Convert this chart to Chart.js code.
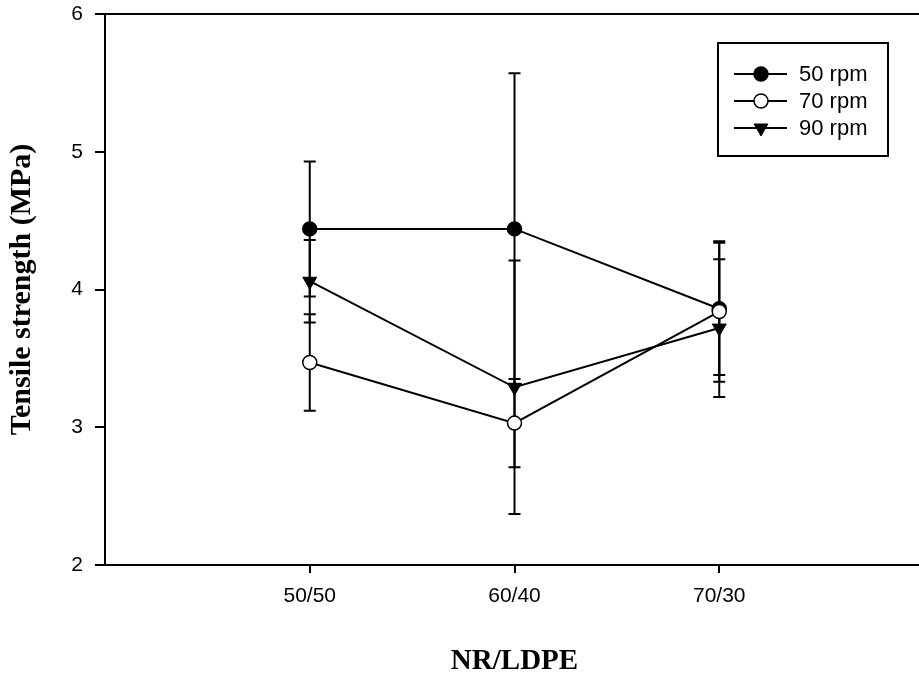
<!DOCTYPE html>
<html>
<head>
<meta charset="utf-8">
<script src="https://cdn.jsdelivr.net/npm/chart.js@4.4.0/dist/chart.umd.min.js"></script>
<style>
    html, body { margin: 0; padding: 0; background: #fff; overflow: hidden; }
    #wrap { position: relative; width: 933px; height: 679px; }
</style>
</head>
<body>
<div id="wrap"><canvas id="tensileChart" width="933" height="679"></canvas></div>
<script>
// NR/LDPE blend ratios on the x axis
const blends = ['50/50', '60/40', '70/30'];

// tensile strength (MPa) and error bar half-widths
const rpm50 = [4.44, 4.44, 3.86];
const rpm50Err = [0.49, 1.13, 0.48];
const rpm70 = [3.47, 3.03, 3.84];
const rpm70Err = [0.35, 0.32, 0.51];
const rpm90 = [4.06, 3.29, 3.72];
const rpm90Err = [0.30, 0.92, 0.50];

const yTicks = [2, 3, 4, 5, 6];

function toPoints(values) {
    return values.map((v, i) => ({ x: i + 1, y: v }));
}

const errorBars = {
    id: 'errorBars',
    beforeDatasetsDraw(chart) {
        const ctx = chart.ctx;
        const xs = chart.scales.x;
        const ys = chart.scales.y;
        ctx.save();
        ctx.strokeStyle = '#000';
        ctx.lineWidth = 2;
        chart.data.datasets.forEach(ds => {
            ds.data.forEach((p, i) => {
                const px = xs.getPixelForValue(p.x);
                const top = ys.getPixelForValue(p.y + ds.errors[i]);
                const bot = ys.getPixelForValue(p.y - ds.errors[i]);
                ctx.beginPath();
                ctx.moveTo(px, top);
                ctx.lineTo(px, bot);
                ctx.moveTo(px - 6, top);
                ctx.lineTo(px + 6, top);
                ctx.moveTo(px - 6, bot);
                ctx.lineTo(px + 6, bot);
                ctx.stroke();
            });
        });
        ctx.restore();
    }
};

// boxed legend inside the plot, line with marker in the middle
const boxLegend = {
    id: 'boxLegend',
    afterDraw(chart) {
        const ctx = chart.ctx;
        const area = chart.chartArea;
        const left = area.right - 206;
        const top = area.top + 29;
        const w = 170, h = 113;
        ctx.save();
        ctx.strokeStyle = '#000';
        ctx.lineWidth = 2;
        ctx.strokeRect(left, top, w, h);
        chart.data.datasets.forEach((ds, row) => {
            const cy = top + 31 + row * 27;
            ctx.strokeStyle = '#000';
            ctx.lineWidth = 2;
            ctx.beginPath();
            ctx.moveTo(left + 16, cy);
            ctx.lineTo(left + 69, cy);
            ctx.stroke();
            ctx.fillStyle = ds.pointBackgroundColor;
            ctx.strokeStyle = ds.pointBorderColor;
            ctx.lineWidth = ds.pointBorderWidth;
            Chart.helpers.drawPoint(ctx, {
                pointStyle: ds.pointStyle,
                rotation: ds.pointRotation || 0,
                radius: ds.pointRadius,
                borderWidth: ds.pointBorderWidth
            }, left + 43, cy);
            ctx.fillStyle = '#000';
            ctx.font = '22px "Liberation Sans", Arial, sans-serif';
            ctx.textBaseline = 'middle';
            ctx.fillText(ds.label, left + 81, cy + 1);
        });
        ctx.restore();
    }
};

const tickFont = { family: '"Liberation Sans", Arial, sans-serif', size: 21 };
const serif = '"Liberation Serif", "Times New Roman", serif';

const ctx = document.getElementById('tensileChart').getContext('2d');
const tensileChart = new Chart(ctx, {
    type: 'line',
    data: {
        datasets: [
            {
                label: '50 rpm',
                data: toPoints(rpm50),
                errors: rpm50Err,
                borderColor: '#000',
                borderWidth: 2,
                pointStyle: 'circle',
                pointRadius: 7,
                pointBackgroundColor: '#000',
                pointBorderColor: '#000',
                pointBorderWidth: 1.5,
                order: 1
            },
            {
                label: '70 rpm',
                data: toPoints(rpm70),
                errors: rpm70Err,
                borderColor: '#000',
                borderWidth: 2,
                pointStyle: 'circle',
                pointRadius: 7,
                pointBackgroundColor: '#fff',
                pointBorderColor: '#000',
                pointBorderWidth: 1.5,
                order: 0
            },
            {
                label: '90 rpm',
                data: toPoints(rpm90),
                errors: rpm90Err,
                borderColor: '#000',
                borderWidth: 2,
                pointStyle: 'triangle',
                pointRotation: 180,
                pointRadius: 8,
                pointBackgroundColor: '#000',
                pointBorderColor: '#000',
                pointBorderWidth: 1,
                order: 2
            }
        ]
    },
    options: {
        responsive: false,
        animation: false,
        layout: { padding: { top: 14, right: 0, left: 0, bottom: 0 } },
        plugins: {
            legend: { display: false },
            tooltip: { enabled: false }
        },
        scales: {
            x: {
                type: 'linear',
                min: 0,
                max: 4,
                afterBuildTicks: s => { s.ticks = blends.map((b, i) => ({ value: i + 1 })); },
                afterFit: s => { s.height = 114; s.paddingLeft = 0; s.paddingRight = 0; },
                ticks: {
                    callback: v => blends[v - 1] || '',
                    font: tickFont,
                    color: '#000',
                    padding: 11,
                    maxRotation: 0,
                    autoSkip: false
                },
                grid: { drawOnChartArea: false, drawTicks: true, tickLength: 8, color: '#000', lineWidth: 2 },
                border: { display: true, color: '#000', width: 2 },
                title: {
                    display: true,
                    text: 'NR/LDPE',
                    font: { family: serif, size: 29, weight: 'bold' },
                    color: '#000',
                    padding: { top: 0, bottom: 0 }
                }
            },
            xTop: {
                type: 'linear',
                position: 'top',
                min: 0,
                max: 4,
                afterFit: s => { s.height = 0; s.paddingLeft = 0; s.paddingRight = 0; },
                ticks: { display: false },
                grid: { display: false },
                border: { display: true, color: '#000', width: 2 }
            },
            y: {
                min: 2,
                max: 6,
                afterBuildTicks: s => { s.ticks = yTicks.map(v => ({ value: v })); },
                afterFit: s => { s.width = 105; s.paddingTop = 0; s.paddingBottom = 0; },
                ticks: {
                    font: tickFont,
                    color: '#000',
                    padding: 12
                },
                grid: { drawOnChartArea: false, drawTicks: true, tickLength: 10, color: '#000', lineWidth: 2 },
                border: { display: true, color: '#000', width: 2 },
                title: {
                    display: true,
                    text: 'Tensile strength (MPa)',
                    font: { family: serif, size: 30, weight: 'bold' },
                    color: '#000',
                    padding: { top: 4, bottom: 0 }
                }
            }
        }
    },
    plugins: [errorBars, boxLegend]
});
</script>
</body>
</html>
